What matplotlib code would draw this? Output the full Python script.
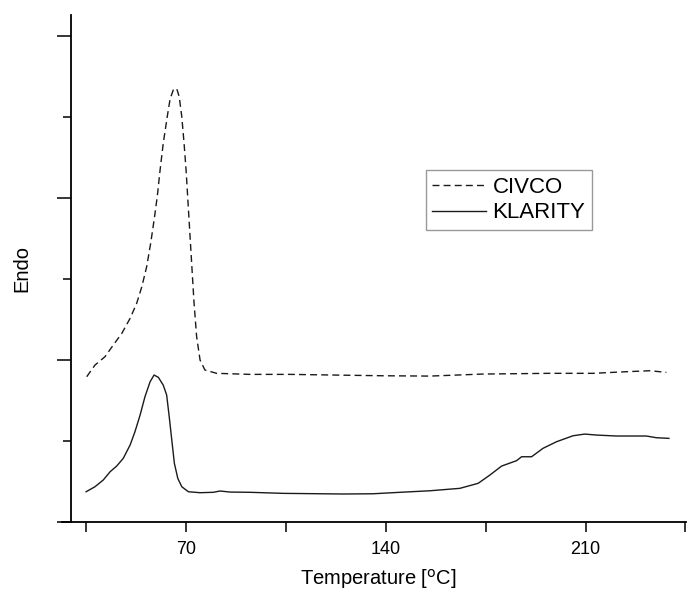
import matplotlib
matplotlib.use("Agg")
import matplotlib.pyplot as plt
from matplotlib.ticker import MultipleLocator, NullFormatter

plt.rcParams['font.family'] = ['Liberation Sans', 'DejaVu Sans']

# CIVCO (dashed) - temperature in C, heat flow in arbitrary units
civco_t = [35.3, 38.2, 41.7, 44.6, 47.6, 50.5, 52.8, 54.6, 56.3, 57.7, 58.9, 60.0,
           61.0, 62.1, 63.5, 64.5, 65.6, 66.8, 67.7, 68.6, 69.4, 70.1, 70.8, 71.5,
           72.2, 72.9, 73.8, 75.0, 76.7, 80.8, 92.5, 106.5, 121.5, 139.0, 155.5,
           174.0, 197.5, 212.6, 224.3, 232.5, 238.3]
civco_y = [1.794, 1.938, 2.041, 2.185, 2.330, 2.515, 2.700, 2.905, 3.152, 3.441,
           3.728, 4.016, 4.346, 4.675, 5.004, 5.222, 5.333, 5.354, 5.251, 5.004,
           4.675, 4.346, 3.935, 3.522, 3.111, 2.700, 2.288, 2.000, 1.877, 1.836,
           1.823, 1.823, 1.815, 1.806, 1.802, 1.827, 1.836, 1.836, 1.856, 1.868,
           1.848]

# KLARITY (solid)
klarity_t = [35.1, 38.2, 41.1, 43.5, 45.8, 48.1, 50.5, 52.2, 54.0, 55.7, 57.5,
             58.9, 60.4, 62.1, 63.3, 64.2, 65.1, 66.0, 67.2, 68.6, 70.9, 75.0,
             79.6, 82.0, 85.5, 92.5, 104.1, 125.1, 135.6, 145.0, 155.5, 166.0,
             172.4, 176.5, 180.6, 185.8, 187.6, 191.1, 195.1, 199.8, 205.6, 209.7,
             213.8, 220.8, 231.3, 234.8, 239.2]
klarity_y = [0.374, 0.436, 0.519, 0.621, 0.691, 0.786, 0.951, 1.115, 1.321, 1.547,
             1.732, 1.815, 1.786, 1.691, 1.568, 1.300, 1.012, 0.725, 0.539, 0.436,
             0.374, 0.362, 0.367, 0.383, 0.370, 0.367, 0.354, 0.346, 0.349, 0.367,
             0.386, 0.416, 0.478, 0.580, 0.691, 0.757, 0.806, 0.806, 0.910, 0.991,
             1.065, 1.086, 1.074, 1.062, 1.062, 1.041, 1.033]

fig = plt.figure(figsize=(6.92, 6.01), dpi=100)
ax = fig.add_axes([0.1026, 0.1314, 0.8884, 0.8436])

ax.plot(civco_t, civco_y, color='#1a1a1a', lw=1.0, dashes=(5, 3), label='CIVCO')
ax.plot(klarity_t, klarity_y, color='#1a1a1a', lw=1.0, label='KLARITY')

ax.set_xlim(29.8, 245.1)
ax.set_ylim(0, 6.26)

for s in ['top', 'right']:
    ax.spines[s].set_visible(False)
for s in ['left', 'bottom']:
    ax.spines[s].set_linewidth(1.3)

# bottom axis line pokes out a bit to the left, like the original
ax.plot([-0.015, 0], [0, 0], transform=ax.transAxes, color='black', lw=1.3,
        clip_on=False)

ax.xaxis.set_major_locator(MultipleLocator(70))
ax.xaxis.set_minor_locator(MultipleLocator(35))
ax.yaxis.set_major_locator(MultipleLocator(2))
ax.yaxis.set_minor_locator(MultipleLocator(1))
ax.yaxis.set_major_formatter(NullFormatter())
ax.tick_params(axis='x', which='both', direction='out', length=7, width=1.1,
               labelsize=13, pad=7)
ax.tick_params(axis='y', which='major', direction='out', length=10, width=1.1)
ax.tick_params(axis='y', which='minor', direction='out', length=6, width=1.1)

ax.set_xlabel('Temperature [$^{\\rm o}$C]', fontsize=14.5, labelpad=6)
ax.set_ylabel('Endo', fontsize=14.5, labelpad=15)

leg = ax.legend(loc='upper left', bbox_to_anchor=(0.577, 0.694), borderaxespad=0,
                fontsize=16, handlelength=2.4, handletextpad=0.3,
                labelspacing=0.2, borderpad=0.3, fancybox=False, framealpha=1)
leg.get_frame().set_edgecolor('#999999')
leg.get_frame().set_linewidth(1.0)

fig.savefig('out.png', dpi=100)
